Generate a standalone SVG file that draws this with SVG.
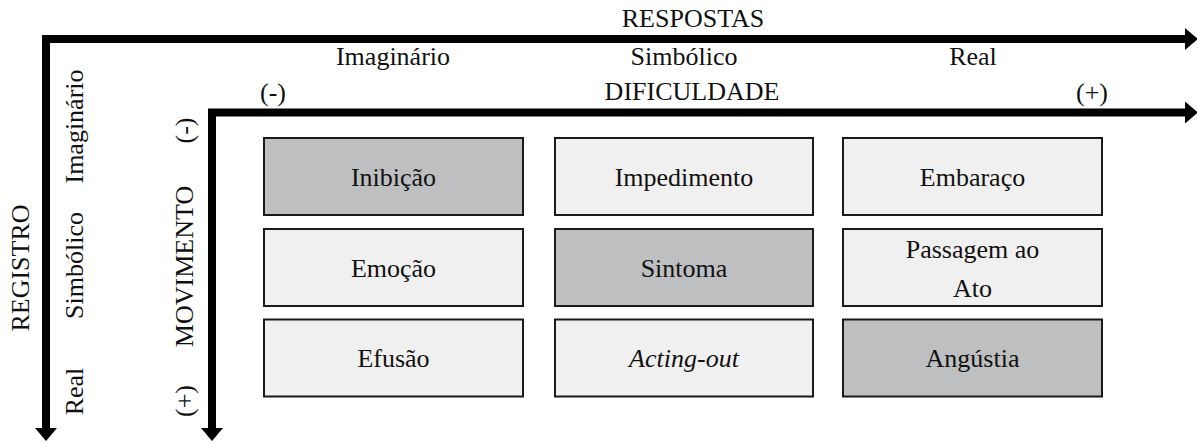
<svg xmlns="http://www.w3.org/2000/svg" width="1197" height="443" viewBox="0 0 1197 443">
  <style>
    text { font-family: "Liberation Serif", "Times New Roman", serif; font-size: 26px; fill: #111; text-anchor: middle; }
    .axis { fill: none; stroke: #000; stroke-width: 8; stroke-linejoin: miter; }
    .box { stroke: #1a1a1a; stroke-width: 2; }
    .dark { fill: #bebfc1; }
    .light { fill: #f0f0f0; }
    .it { font-style: italic; }
  </style>
  <defs>
    <marker id="head" markerUnits="userSpaceOnUse" markerWidth="14" markerHeight="24" viewBox="0 -12 14 24" refX="0" refY="0" orient="auto-start-reverse">
      <path d="M0,-11 L13,0 L0,11 z" fill="#000"/>
    </marker>
  </defs>

  <!-- axes -->
  <g id="connectors">
    <path class="axis" d="M46,428 V39 H1185" marker-start="url(#head)" marker-end="url(#head)"/>
    <path class="axis" d="M212,428 V112.5 H1185" marker-start="url(#head)" marker-end="url(#head)"/>
  </g>

  <!-- axis labels -->
  <g id="axis-labels">
    <text x="693" y="27">RESPOSTAS</text>
    <text x="393" y="65">Imaginário</text>
    <text x="684" y="65">Simbólico</text>
    <text x="973" y="65">Real</text>
    <text x="273" y="101">(-)</text>
    <text x="692" y="100">DIFICULDADE</text>
    <text x="1092" y="101">(+)</text>
    <text transform="translate(29,268) rotate(-90)">REGISTRO</text>
    <text transform="translate(83,126.5) rotate(-90)">Imaginário</text>
    <text transform="translate(83,265.5) rotate(-90)">Simbólico</text>
    <text transform="translate(83,391.5) rotate(-90)">Real</text>
    <text transform="translate(193,266.5) rotate(-90)">MOVIMENTO</text>
    <text transform="translate(193,130.5) rotate(-90)">(-)</text>
    <text transform="translate(193,401) rotate(-90)">(+)</text>
  </g>

  <!-- row 1 -->
  <g id="inibicao">
    <rect class="box dark" x="264" y="138" width="259" height="77"/>
    <text x="393.5" y="185.5">Inibição</text>
  </g>
  <g id="impedimento">
    <rect class="box light" x="555" y="138" width="258" height="77"/>
    <text x="684" y="185.5">Impedimento</text>
  </g>
  <g id="embaraco">
    <rect class="box light" x="843" y="138" width="259" height="77"/>
    <text x="972.5" y="185.5">Embaraço</text>
  </g>

  <!-- row 2 -->
  <g id="emocao">
    <rect class="box light" x="264" y="229" width="259" height="77"/>
    <text x="393.5" y="276.5">Emoção</text>
  </g>
  <g id="sintoma">
    <rect class="box dark" x="555" y="229" width="258" height="77"/>
    <text x="684" y="276.5">Sintoma</text>
  </g>
  <g id="passagem-ao-ato">
    <rect class="box light" x="843" y="229" width="259" height="77"/>
    <text x="972.5" y="257.5">Passagem ao</text>
    <text x="972.5" y="297">Ato</text>
  </g>

  <!-- row 3 -->
  <g id="efusao">
    <rect class="box light" x="264" y="319.5" width="259" height="77"/>
    <text x="393.5" y="367">Efusão</text>
  </g>
  <g id="acting-out">
    <rect class="box light" x="555" y="319.5" width="258" height="77"/>
    <text class="it" x="684" y="367">Acting-out</text>
  </g>
  <g id="angustia">
    <rect class="box dark" x="843" y="319.5" width="259" height="77"/>
    <text x="972.5" y="367">Angústia</text>
  </g>
</svg>
